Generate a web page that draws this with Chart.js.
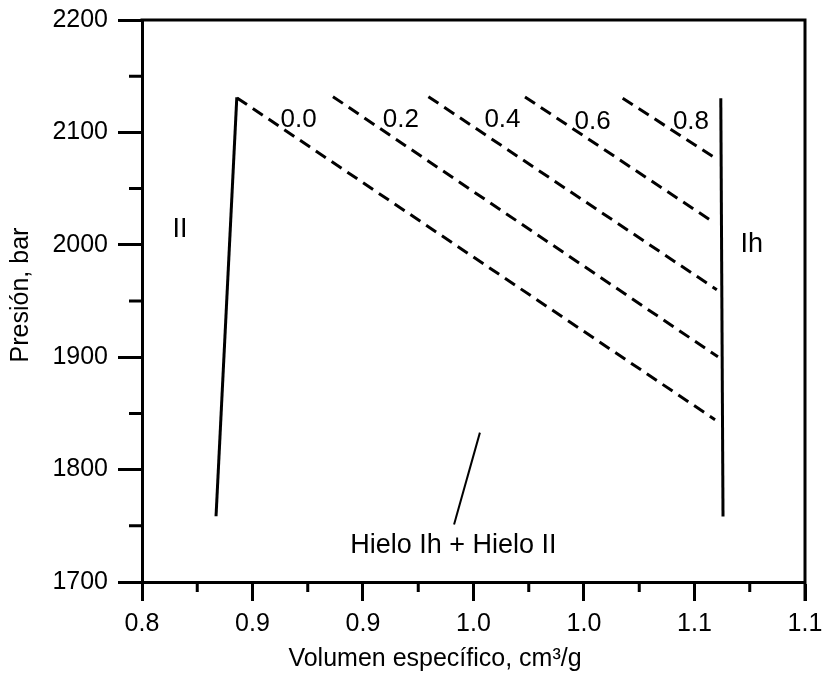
<!DOCTYPE html>
<html><head><meta charset="utf-8">
<script src="https://cdn.jsdelivr.net/npm/chart.js@4.4.1/dist/chart.umd.min.js"></script>
<style>html,body{margin:0;padding:0;background:#fff;}canvas{display:block;}</style>
</head><body>
<canvas id="c" width="823" height="673"></canvas>
<script>
// ---- data ----
const xTickValues = [0.80, 0.85, 0.90, 0.95, 1.00, 1.05, 1.10];
const xTickLabels = ['0.8', '0.9', '0.9', '1.0', '1.0', '1.1', '1.1'];
const xMinorTicks = [0.825, 0.875, 0.925, 0.975, 1.025, 1.075];
const yTickValues = [1700, 1800, 1900, 2000, 2100, 2200];
const yTickLabels = ['1700', '1800', '1900', '2000', '2100', '2200'];
const yMinorTicks = [1750, 1850, 1950, 2050, 2150];

const iceIIBoundaryX = [0.8335, 0.8429];
const iceIIBoundaryP = [1758.5, 2131.3];
const iceIhBoundaryX = [1.0629, 1.0619];
const iceIhBoundaryP = [1758.2, 2130.4];

const fractionLabels = ['0.0', '0.2', '0.4', '0.6', '0.8'];
const fractionStartX = [0.8430, 0.8864, 0.9296, 0.9733, 1.0175];
const fractionStartP = [2130.7, 2131.8, 2131.8, 2131.6, 2130.4];
const fractionEndX = [1.0593, 1.0606, 1.0601, 1.0570, 1.0606];
const fractionEndP = [1844.4, 1900.4, 1960.0, 2022.2, 2075.6];
const fractionLabelX = [0.8709, 0.9171, 0.9631, 1.0039, 1.0484];
const fractionLabelP = [2110.8, 2110.8, 2110.8, 2109.6, 2109.6];

const phaseLabels = ['II', 'Ih', 'Hielo Ih + Hielo II'];
const phaseLabelX = [0.8172, 1.0759, 0.9409];
const phaseLabelP = [2013.3, 2000.3, 1732.6];
const pointerX = [0.9529, 0.9412];
const pointerP = [1832.9, 1751.1];

const xTitle = 'Volumen específico, cm³/g';
const yTitle = 'Presión, bar';

// ---- chart ----
const FONT = "'Liberation Sans', Arial, Helvetica, sans-serif";

function lineDs(label, xs, ps, width, dash) {
  return {
    label: label,
    data: xs.map((x, i) => ({ x: x, y: ps[i] })),
    showLine: true,
    borderColor: '#000',
    borderWidth: width,
    borderDash: dash || [],
    borderCapStyle: 'butt',
    borderJoinStyle: 'miter',
    pointRadius: 0,
    pointHoverRadius: 0,
    fill: false,
    tension: 0
  };
}

const datasets = [
  lineDs('II', iceIIBoundaryX, iceIIBoundaryP, 3),
  lineDs('Ih', iceIhBoundaryX, iceIhBoundaryP, 3)
].concat(fractionLabels.map((f, i) =>
  lineDs(f, [fractionStartX[i], fractionEndX[i]], [fractionStartP[i], fractionEndP[i]], 3, [12, 7])
)).concat([lineDs('pointer', pointerX, pointerP, 2)]);

const decor = {
  id: 'decor',
  beforeDraw(chart) {
    const ctx = chart.ctx;
    ctx.save();
    ctx.fillStyle = '#fff';
    ctx.fillRect(0, 0, chart.width, chart.height);
    ctx.restore();
  },
  afterDraw(chart) {
    const ctx = chart.ctx, a = chart.chartArea, x = chart.scales.x, y = chart.scales.y;
    ctx.save();
    ctx.strokeStyle = '#000';
    ctx.lineWidth = 3;
    ctx.lineCap = 'butt';
    ctx.beginPath();
    ctx.moveTo(a.left - 1.5, a.top);
    ctx.lineTo(a.right, a.top);
    ctx.moveTo(a.right, a.top - 1.5);
    ctx.lineTo(a.right, a.bottom + 19);
    ctx.stroke();
    ctx.beginPath();
    xMinorTicks.forEach(v => { const px = x.getPixelForValue(v); ctx.moveTo(px, a.bottom); ctx.lineTo(px, a.bottom + 10); });
    yMinorTicks.forEach(v => { const py = y.getPixelForValue(v); ctx.moveTo(a.left, py); ctx.lineTo(a.left - 13, py); });
    ctx.stroke();

    ctx.fillStyle = '#000';
    ctx.textAlign = 'center';
    ctx.textBaseline = 'middle';
    ctx.font = '26px ' + FONT;
    fractionLabels.forEach((t, i) => ctx.fillText(t, x.getPixelForValue(fractionLabelX[i]), y.getPixelForValue(fractionLabelP[i])));
    ctx.font = '27px ' + FONT;
    phaseLabels.forEach((t, i) => ctx.fillText(t, x.getPixelForValue(phaseLabelX[i]), y.getPixelForValue(phaseLabelP[i])));

    ctx.font = '25px ' + FONT;
    ctx.fillText(xTitle, 435, 659);
    ctx.translate(21, 295);
    ctx.rotate(-Math.PI / 2);
    ctx.fillText(yTitle, 0, 0);
    ctx.restore();
  }
};

new Chart(document.getElementById('c'), {
  type: 'scatter',
  data: { datasets: datasets },
  plugins: [decor],
  options: {
    responsive: false,
    animation: false,
    devicePixelRatio: 1,
    layout: { padding: { left: 0, right: 18, top: 20, bottom: 0 } },
    plugins: { legend: { display: false }, tooltip: { enabled: false } },
    events: [],
    scales: {
      x: {
        type: 'linear', min: 0.8, max: 1.1,
        afterBuildTicks: s => { s.ticks = xTickValues.map(v => ({ value: v })); },
        afterFit: s => { s.height = 91; s.paddingLeft = 0; s.paddingRight = 0; },
        ticks: { callback: (v, i) => xTickLabels[i], font: { family: FONT, size: 25 }, color: '#000', padding: 8, maxRotation: 0, autoSkip: false },
        grid: { display: true, drawOnChartArea: false, drawTicks: true, tickLength: 19, tickWidth: 3, tickColor: '#000' },
        border: { display: true, color: '#000', width: 3 }
      },
      y: {
        type: 'linear', min: 1700, max: 2200,
        afterBuildTicks: s => { s.ticks = yTickValues.map(v => ({ value: v })); },
        afterFit: s => { s.width = 142; s.paddingTop = 0; s.paddingBottom = 0; },
        ticks: { callback: (v, i) => yTickLabels[i], font: { family: FONT, size: 25 }, color: '#000', padding: 10, autoSkip: false },
        grid: { display: true, drawOnChartArea: false, drawTicks: true, tickLength: 24, tickWidth: 3, tickColor: '#000' },
        border: { display: true, color: '#000', width: 3 }
      }
    }
  }
});
</script>
</body></html>
